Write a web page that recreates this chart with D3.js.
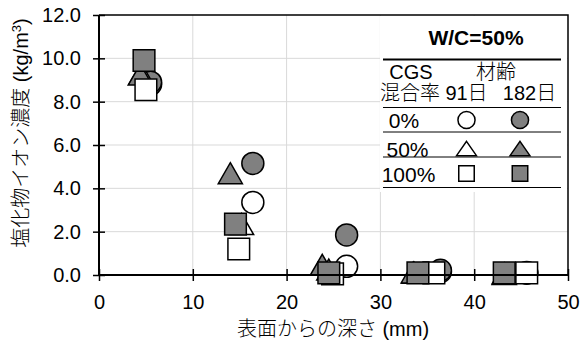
<!DOCTYPE html>
<html>
<head>
<meta charset="utf-8">
<script src="https://cdn.jsdelivr.net/npm/d3@7"></script>
<style>
  html, body { margin: 0; padding: 0; background: #fff; }
  svg text { font-family: "Liberation Sans", Arial, "Noto Sans CJK JP", sans-serif; fill: #000; }
  .jp { font-family: "Liberation Sans", "Noto Sans CJK JP", sans-serif; font-weight: 300; }
</style>
</head>
<body>
<svg id="chart" width="580" height="343"></svg>
<script>
// Chloride ion concentration (kg/m3) vs depth from surface (mm), W/C = 50%
const xTicks = [0, 10, 20, 30, 40, 50];
const yTicks = [0, 2, 4, 6, 8, 10, 12];

// [depth mm, concentration kg/m3]
const cgs0_91d    = [[5.5, 8.8], [16.4, 3.35], [26.4, 0.4], [36.4, 0.15], [45.6, 0.08]];
const cgs0_182d   = [[5.5, 8.9], [16.4, 5.15], [26.4, 1.85], [36.4, 0.22], [45.6, 0.12]];
const cgs50_91d   = [[4.5, 9.3], [15.2, 2.35], [24.5, 0.25], [33.6, 0.1], [43.2, 0.05]];
const cgs50_182d  = [[4.4, 9.25], [14.0, 4.7], [23.8, 0.47], [33.5, 0.12], [43.2, 0.08]];
const cgs100_91d  = [[5.0, 8.55], [14.9, 1.2], [24.9, 0.05], [35.7, 0.1], [45.6, 0.1]];
const cgs100_182d = [[4.8, 9.9], [14.55, 2.35], [24.5, 0.1], [34.0, 0.1], [43.2, 0.1]];

const seriesNames = ["0%", "50%", "100%"];
const ageNames = ["91日", "182日"];

const GRAY = "#808080";

// bounding-box centred triangle with a given height/width ratio
const triBox = ratio => ({
  draw(ctx, size) {
    const w = Math.sqrt(size) * 1.15, h = w * ratio;
    ctx.moveTo(0, -h / 2);
    ctx.lineTo(w / 2, h / 2);
    ctx.lineTo(-w / 2, h / 2);
    ctx.closePath();
  }
});
const triMain = triBox(0.87);
const triKey = triBox(0.72);

const series = [
  { data: cgs0_91d,    shape: d3.symbolCircle, key: d3.symbolCircle, fill: "#fff" },
  { data: cgs0_182d,   shape: d3.symbolCircle, key: d3.symbolCircle, fill: GRAY },
  { data: cgs50_91d,   shape: triMain,         key: triKey,          fill: "#fff" },
  { data: cgs50_182d,  shape: triMain,         key: triKey,          fill: GRAY },
  { data: cgs100_91d,  shape: d3.symbolSquare, key: d3.symbolSquare, fill: "#fff" },
  { data: cgs100_182d, shape: d3.symbolSquare, key: d3.symbolSquare, fill: GRAY }
];
const sizeOf = s => s === d3.symbolCircle ? 380 : s === d3.symbolSquare ? 470 : 440;
const keySizeOf = s => s === d3.symbolCircle ? 230 : s === d3.symbolSquare ? 240 : 300;

const svg = d3.select("#chart");
const x = d3.scaleLinear().domain([0, 50]).range([99, 568]);
const y = d3.scaleLinear().domain([0, 12]).range([275, 15]);

// gridlines
const grid = svg.append("g");
grid.selectAll("line.h").data(yTicks.slice(1, -1)).join("line")
  .attr("x1", x(0)).attr("x2", x(50))
  .attr("y1", d => y(d)).attr("y2", d => y(d))
  .attr("stroke", "#d9d9d9").attr("stroke-width", 1);
grid.selectAll("line.v").data(xTicks.slice(1, -1)).join("line")
  .attr("y1", y(0)).attr("y2", y(12))
  .attr("x1", d => x(d)).attr("x2", d => x(d))
  .attr("stroke", "#d9d9d9").attr("stroke-width", 1);

// frame (top and right)
svg.append("path")
  .attr("d", `M${x(0)},${y(12)}H${x(50)}V${y(0)}`)
  .attr("fill", "none").attr("stroke", "#000").attr("stroke-width", 1.5);

// legend box
const lg = svg.append("g");
lg.append("rect").attr("x", 380).attr("y", 16).attr("width", x(50) - 1 - 380).attr("height", 176)
  .attr("fill", "#fff");

// markers
const mk = svg.append("g");
series.forEach(s => {
  mk.append("g").selectAll("path").data(s.data).join("path")
    .attr("transform", d => `translate(${x(d[0])},${y(d[1])})`)
    .attr("d", d3.symbol().type(s.shape).size(sizeOf(s.shape)))
    .attr("fill", s.fill).attr("stroke", "#000").attr("stroke-width", 1.5);
});

// x axis
const xMinor = d3.range(0, 50.01, 2).filter(v => v % 10 !== 0);
const xa = svg.append("g").attr("transform", `translate(0,${y(0)})`);
xa.call(d3.axisBottom(x).tickValues(xMinor).tickSize(-5).tickFormat(""));
xa.call(d3.axisBottom(x).tickValues(xTicks).tickSize(6).tickPadding(14).tickFormat(d3.format("d")));
xa.selectAll(".domain").attr("stroke-width", 2).attr("d", `M${x(0)},0H${x(50)}`);
xa.selectAll(".tick line").attr("stroke-width", 1.5);
xa.selectAll(".tick").filter(d => xTicks.includes(d)).select("line").attr("y1", -6);
xa.selectAll("text").style("font-size", "20px").attr("font-family", null);

// y axis
const yMinor = d3.range(0, 12.01, 0.4).filter(v => Math.abs(v / 2 - Math.round(v / 2)) > 0.01);
const ya = svg.append("g").attr("transform", `translate(${x(0)},0)`);
ya.call(d3.axisLeft(y).tickValues(yMinor).tickSize(-5).tickFormat(""));
ya.call(d3.axisLeft(y).tickValues(yTicks).tickSize(6).tickPadding(12).tickFormat(d3.format(".1f")));
ya.selectAll(".domain").attr("stroke-width", 2).attr("d", `M0,${y(0)}V${y(12)}`);
ya.selectAll(".tick line").attr("stroke-width", 1.5);
ya.selectAll(".tick").filter(d => yTicks.includes(d)).select("line").attr("x1", 6);
ya.selectAll("text").style("font-size", "20px").attr("font-family", null);

// axis titles
svg.append("text").attr("class", "jp")
  .attr("x", 333).attr("y", 336).attr("text-anchor", "middle")
  .style("font-size", "20px").text("表面からの深さ (mm)");

const yt = svg.append("text").attr("class", "jp")
  .attr("transform", "translate(28,133) rotate(-90)").attr("text-anchor", "middle")
  .style("font-size", "20px");
yt.append("tspan").text("塩化物イオン濃度  (kg/m");
yt.append("tspan").attr("dy", -7).style("font-size", "13px").text("3");
yt.append("tspan").attr("dy", 7).text(")");

// legend table
lg.append("text").attr("x", 476).attr("y", 45).attr("text-anchor", "middle")
  .style("font-size", "21px").style("font-weight", "bold").text("W/C=50%");
lg.append("line").attr("x1", 383).attr("x2", 561).attr("y1", 59.5).attr("y2", 59.5)
  .attr("stroke", "#000").attr("stroke-width", 2);
lg.append("text").attr("x", 411).attr("y", 79).attr("text-anchor", "middle")
  .style("font-size", "20px").text("CGS");
lg.append("text").attr("class", "jp").attr("x", 496).attr("y", 79).attr("text-anchor", "middle")
  .style("font-size", "20px").text("材齢");
lg.append("text").attr("class", "jp").attr("x", 410).attr("y", 100).attr("text-anchor", "middle")
  .style("font-size", "20px").text("混合率");
const colX = [466.5, 520];
const colTextX = [466.5, 529.5];
ageNames.forEach((a, i) => {
  lg.append("text").attr("class", "jp").attr("x", colTextX[i]).attr("y", 100).attr("text-anchor", "middle")
    .style("font-size", "20px").text(a);
});
const sepY = [107.5, 132, 157, 187.5];
lg.selectAll("line.sep").data(sepY).join("line")
  .attr("x1", 383).attr("x2", 561).attr("y1", d => d).attr("y2", d => d)
  .attr("stroke", "#000").attr("stroke-width", 1);
const rowY = [120, 148.5, 173.5];
const rowTextX = [404, 407.5, 408.5];
seriesNames.forEach((n, r) => {
  lg.append("text").attr("x", rowTextX[r]).attr("y", rowY[r] + 8).attr("text-anchor", "middle")
    .style("font-size", "21px").text(n);
  [0, 1].forEach(c => {
    const s = series[r * 2 + c];
    lg.append("path")
      .attr("transform", `translate(${colX[c]},${rowY[r]})`)
      .attr("d", d3.symbol().type(s.key).size(keySizeOf(s.key)))
      .attr("fill", s.fill).attr("stroke", "#000").attr("stroke-width", 1.5);
  });
});
</script>
</body>
</html>
